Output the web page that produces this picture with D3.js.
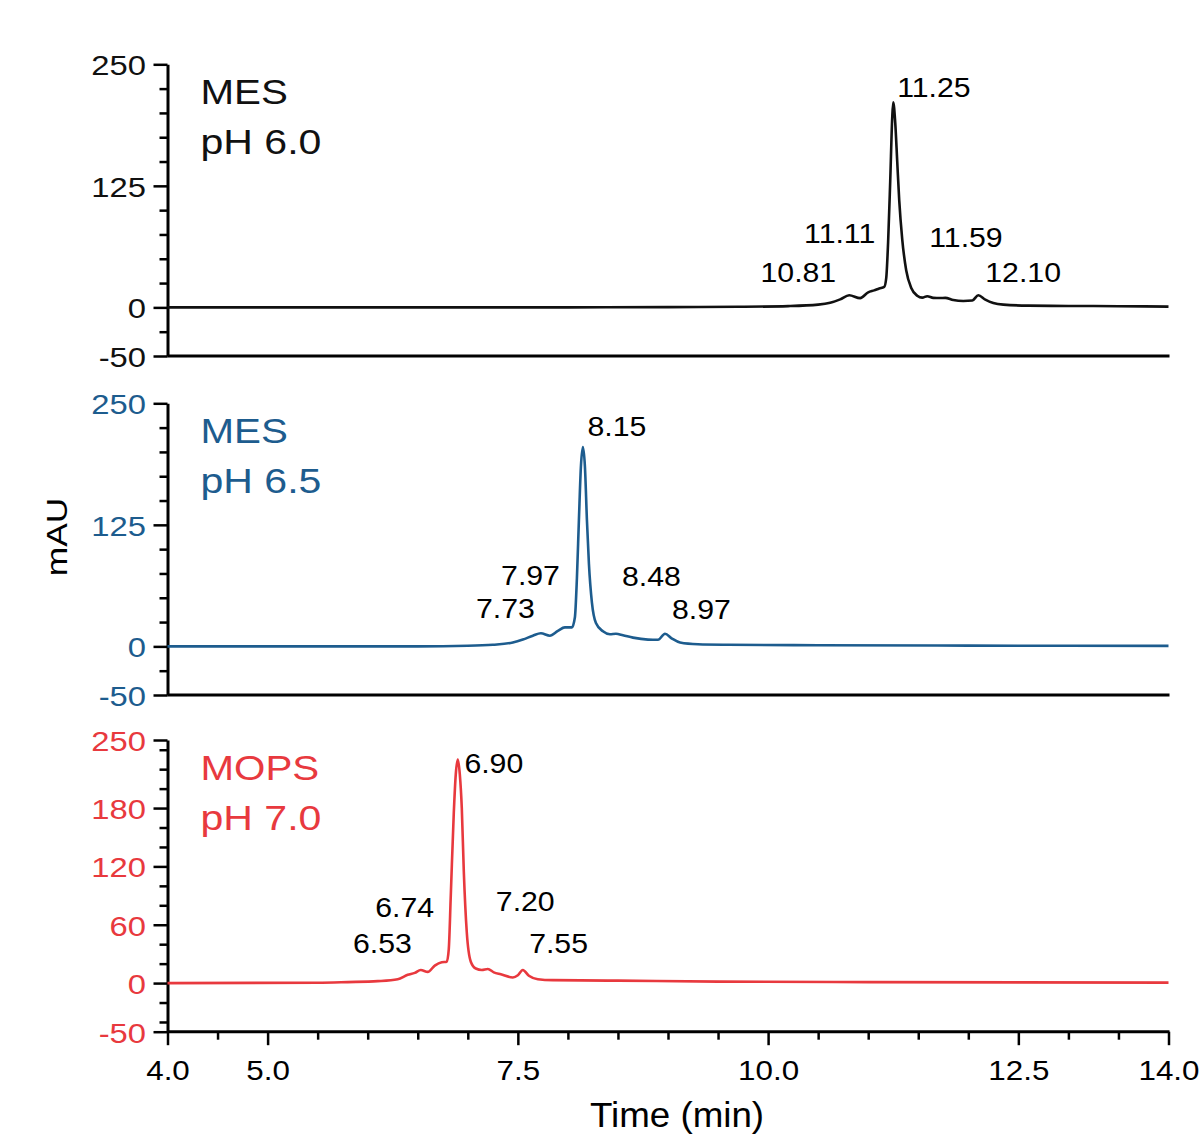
<!DOCTYPE html>
<html>
<head>
<meta charset="utf-8">
<script src="https://cdn.jsdelivr.net/npm/d3@7"></script>
<style>
  html, body { margin: 0; padding: 0; background: #fff; }
  svg { display: block; }
  text { font-family: "Liberation Sans", Arial, sans-serif; }
</style>
</head>
<body>
<svg id="chart" width="1201" height="1135"></svg>
<script>
// ---- data -------------------------------------------------------------
const bufferNames = ["MES", "MES", "MOPS"];
const bufferPH = ["pH 6.0", "pH 6.5", "pH 7.0"];

// x axis (retention time, min)
const timeDomain = [4.0, 14.0];
const timeMajorTicks = [4.0, 5.0, 7.5, 10.0, 12.5, 14.0];
const timeMinorTicks = [4.5, 5.5, 6.0, 6.5, 7.0, 8.0, 8.5, 9.0, 9.5, 10.5, 11.0, 11.5, 12.0, 13.0, 13.5];

// y axes (mAU)
const absDomain = [-50, 250];
const absLabelTicksMES = [250, 125, 0, -50];
const absMinorTicksMES = [225, 200, 175, 150, 100, 75, 50, 25, -25];
const absLabelTicksMOPS = [250, 180, 120, 60, 0, -50];
const absMinorTicksMOPS = [240, 220, 200, 160, 140, 100, 80, 40, 20, -20, -40];

// chromatograms: [time (min), absorbance (mAU)]
const traceMES60 = [
  [4.0, 0], [8.0, 0], [9.0, 0.3], [9.7, 0.6], [10.2, 1.3], [10.5, 2.8], [10.62, 4.7],
  [10.72, 8.2], [10.81, 12.5], [10.92, 9.5], [11.0, 15.5], [11.06, 17.5], [11.11, 19.5],
  [11.16, 21], [11.18, 30], [11.2, 70], [11.22, 130], [11.24, 195], [11.25, 211],
  [11.27, 190], [11.29, 150], [11.31, 110], [11.34, 70], [11.38, 38], [11.43, 20],
  [11.49, 12], [11.54, 10], [11.59, 11.5], [11.65, 9.8], [11.72, 9.6], [11.77, 9.8],
  [11.85, 7.5], [11.95, 6.5], [12.04, 7], [12.10, 12.5], [12.17, 8], [12.25, 4.5],
  [12.35, 2.8], [12.6, 1.8], [13.0, 1.5], [13.5, 1.2], [14.0, 0.8]
];
const traceMES65 = [
  [4.0, 0], [6.5, 0], [7.0, 0.6], [7.25, 1.7], [7.45, 4], [7.55, 7], [7.65, 11],
  [7.73, 13.5], [7.82, 11], [7.9, 16], [7.97, 19.5], [8.04, 19.5], [8.07, 30],
  [8.09, 70], [8.11, 130], [8.13, 185], [8.15, 205], [8.17, 185], [8.19, 130],
  [8.21, 85], [8.24, 45], [8.28, 24], [8.35, 15.5], [8.42, 12.5], [8.48, 13],
  [8.55, 11.5], [8.65, 9], [8.8, 7], [8.9, 6.8], [8.97, 13], [9.04, 8], [9.12, 4],
  [9.3, 2.2], [9.6, 1.7], [10.5, 1.2], [12.0, 0.8], [14.0, 0.5]
];
const traceMOPS70 = [
  [4.0, 0], [5.5, 0.3], [5.8, 1], [6.1, 2], [6.3, 4], [6.4, 8.5], [6.47, 10.5],
  [6.53, 13.5], [6.6, 11.5], [6.67, 18], [6.74, 21.5], [6.79, 22], [6.81, 35],
  [6.83, 90], [6.86, 175], [6.88, 215], [6.90, 230], [6.92, 215], [6.94, 180],
  [6.96, 115], [6.99, 52], [7.03, 22], [7.08, 15], [7.14, 13.5], [7.20, 14.5],
  [7.26, 11], [7.33, 9], [7.45, 5.8], [7.50, 8], [7.55, 13.5], [7.61, 7.5],
  [7.7, 4], [7.85, 3], [8.5, 2.5], [9.5, 1.5], [11.0, 1], [14.0, 0.5]
];

// annotated retention times (min)
const peaksMES60 = [11.25, 11.11, 10.81, 11.59, 12.10];
const peaksMES65 = [8.15, 7.97, 7.73, 8.48, 8.97];
const peaksMOPS70 = [6.90, 6.74, 6.53, 7.20, 7.55];

// ---- layout -----------------------------------------------------------
const COLORS = ["#111111", "#1d5c8e", "#e8393e"];
const AXIS_COLOR = "#000";
const panelTops = [64.3, 403.3, 740];
const panelHeight = 291.7;
const xRange = [167.5, 1168.5];
const FONT = '"Liberation Sans", Arial, sans-serif';

// label placement per annotated peak: anchor side, horizontal gap (px), baseline (mAU)
const peakLabelLayout = [
  [{a: "start", dx: 4, at: 216.5}, {a: "end", dx: -4, at: 66.5}, {a: "end", dx: -13, at: 26.6},
   {a: "start", dx: 2, at: 62.5}, {a: "start", dx: 7, at: 26.6}],
  [{a: "start", dx: 4.6, at: 216.5}, {a: "end", dx: -5, at: 63.5}, {a: "end", dx: -6, at: 29},
   {a: "start", dx: 6, at: 62.5}, {a: "start", dx: 7, at: 28.2}],
  [{a: "start", dx: 6.6, at: 216.5}, {a: "end", dx: -7.7, at: 68.4}, {a: "end", dx: -9, at: 30.8},
   {a: "start", dx: 8, at: 74.6}, {a: "start", dx: 6.3, at: 30.8}]
];

const panels = [
  {trace: traceMES60, peaks: peaksMES60, labelTicks: absLabelTicksMES, minorTicks: absMinorTicksMES},
  {trace: traceMES65, peaks: peaksMES65, labelTicks: absLabelTicksMES, minorTicks: absMinorTicksMES},
  {trace: traceMOPS70, peaks: peaksMOPS70, labelTicks: absLabelTicksMOPS, minorTicks: absMinorTicksMOPS}
];

// ---- drawing ----------------------------------------------------------
const svg = d3.select("#chart");
const x = d3.scaleLinear().domain(timeDomain).range(xRange);
const plainNumber = d => String(d);   // hyphen-minus, as in the instrument export

// text with a slightly widened face
function addText(parent, px, py, str, opts) {
  return parent.append("text")
    .attr("transform", `translate(${px},${py}) scale(${opts.sx},1)`)
    .attr("text-anchor", opts.anchor || "start")
    .attr("font-size", opts.size)
    .attr("fill", opts.fill || "#000")
    .text(str);
}

panels.forEach((p, i) => {
  const top = panelTops[i];
  const y = d3.scaleLinear().domain(absDomain).range([top + panelHeight, top]);
  const g = svg.append("g");
  const color = COLORS[i];

  // minor y ticks
  const minorAxis = g.append("g")
    .attr("transform", `translate(${xRange[0]},0)`)
    .call(d3.axisLeft(y).tickValues(p.minorTicks).tickSize(8).tickSizeOuter(0).tickFormat(""));
  minorAxis.select(".domain").remove();
  minorAxis.selectAll("line").attr("stroke", AXIS_COLOR).attr("stroke-width", 2.5);

  // labelled y ticks
  const majorAxis = g.append("g")
    .attr("transform", `translate(${xRange[0]},0)`)
    .call(d3.axisLeft(y).tickValues(p.labelTicks).tickSize(14).tickSizeOuter(0)
      .tickPadding(0).tickFormat(plainNumber));
  majorAxis.select(".domain").attr("stroke", AXIS_COLOR).attr("stroke-width", 3);
  majorAxis.selectAll("line").attr("stroke", AXIS_COLOR).attr("stroke-width", 2.5);
  majorAxis.selectAll("text")
    .attr("x", null).attr("dy", null)
    .attr("font-size", 28.5)
    .attr("font-family", FONT)
    .attr("fill", color)
    .attr("transform", "translate(-21.5,10.5) scale(1.15,1)");

  // bottom frame line at the lower end of the y range
  g.append("line")
    .attr("x1", xRange[0]).attr("x2", xRange[1] + 1)
    .attr("y1", y(absDomain[0])).attr("y2", y(absDomain[0]))
    .attr("stroke", AXIS_COLOR).attr("stroke-width", 3);

  // chromatogram
  const line = d3.line()
    .x(d => x(d[0]))
    .y(d => y(d[1]))
    .curve(d3.curveMonotoneX);
  g.append("path")
    .datum(p.trace)
    .attr("d", line)
    .attr("fill", "none")
    .attr("stroke", color)
    .attr("stroke-width", 2.6)
    .attr("stroke-linejoin", "round");

  // buffer label
  addText(g, 200.5, top + 40, bufferNames[i], {size: 36, fill: color, sx: 1.12});
  addText(g, 200.5, top + 90, bufferPH[i], {size: 36, fill: color, sx: 1.14});

  // retention-time annotations
  p.peaks.forEach((rt, k) => {
    const lay = peakLabelLayout[i][k];
    addText(g, x(rt) + lay.dx, y(lay.at), rt.toFixed(2), {size: 28, anchor: lay.a, sx: 1.08});
  });

  // time axis on the bottom panel only
  if (i === panels.length - 1) {
    const base = y(absDomain[0]);
    const minorX = g.append("g")
      .attr("transform", `translate(0,${base})`)
      .call(d3.axisBottom(x).tickValues(timeMinorTicks).tickSize(8).tickSizeOuter(0).tickFormat(""));
    minorX.select(".domain").remove();
    minorX.selectAll("line").attr("stroke", AXIS_COLOR).attr("stroke-width", 2.5);

    const majorX = g.append("g")
      .attr("transform", `translate(0,${base})`)
      .call(d3.axisBottom(x).tickValues(timeMajorTicks).tickSize(13.5).tickSizeOuter(0)
        .tickFormat(d3.format(".1f")));
    majorX.select(".domain").remove();
    majorX.selectAll("line").attr("stroke", AXIS_COLOR).attr("stroke-width", 2.5);
    majorX.selectAll("text")
      .attr("y", null).attr("dy", null)
      .attr("font-size", 28.5)
      .attr("font-family", FONT)
      .attr("fill", "#000")
      .attr("transform", "translate(0,48.5) scale(1.1,1)");

    addText(svg, 677, base + 95, "Time (min)", {size: 35, anchor: "middle", sx: 1.05});
  }
});

// shared y-axis title
svg.append("text")
  .attr("transform", "translate(66.5,537) rotate(-90) scale(1.18,1)")
  .attr("text-anchor", "middle")
  .attr("font-size", 30)
  .attr("fill", "#000")
  .text("mAU");
</script>
</body>
</html>
